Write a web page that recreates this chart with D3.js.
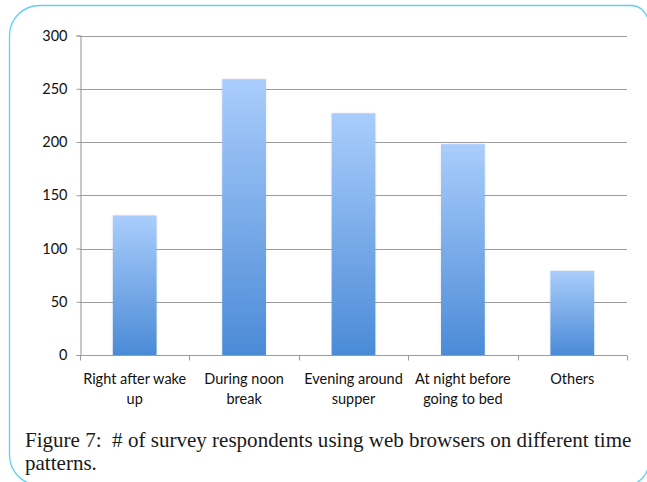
<!DOCTYPE html>
<html>
<head>
<meta charset="utf-8">
<script src="https://cdn.jsdelivr.net/npm/d3@7"></script>
<style>
  html, body { margin: 0; padding: 0; background: #ffffff; }
  svg { display: block; }
</style>
</head>
<body>
<svg id="chart" width="647" height="482"></svg>
<script>
// Survey: time of day respondents use web browsers
const categories = [
  ["Right after wake", "up"],
  ["During noon", "break"],
  ["Evening around", "supper"],
  ["At night before", "going to bed"],
  ["Others"]
];
const respondents = [131, 259, 227, 198, 79];
const yTicks = [0, 50, 100, 150, 200, 250, 300];
const captionLines = [
  "Figure 7:  # of survey respondents using web browsers on different time",
  "patterns."
];

const svg = d3.select("#chart");
const plot = { left: 80, right: 627, top: 35.5, bottom: 355 };

// Rounded frame around figure + caption (uneven corner radii)
(function frame() {
  const x0 = 9.5, y0 = 5.5, x1 = 648.5, y1 = 485;
  const rTL = 30, rTR = 18, rBR = 22, rBL = 30;
  const p = d3.path();
  p.moveTo(x0 + rTL, y0);
  p.lineTo(x1 - rTR, y0);
  p.arcTo(x1, y0, x1, y0 + rTR, rTR);
  p.lineTo(x1, y1 - rBR);
  p.arcTo(x1, y1, x1 - rBR, y1, rBR);
  p.lineTo(x0 + rBL, y1);
  p.arcTo(x0, y1, x0, y1 - rBL, rBL);
  p.lineTo(x0, y0 + rTL);
  p.arcTo(x0, y0, x0 + rTL, y0, rTL);
  p.closePath();
  svg.append("path")
    .attr("d", p.toString())
    .attr("fill", "none")
    .attr("stroke", "#5fd0f3")
    .attr("stroke-width", 1.3);
})();

const defs = svg.append("defs");
const grad = defs.append("linearGradient")
  .attr("id", "barFill").attr("x1", 0).attr("y1", 0).attr("x2", 0).attr("y2", 1);
grad.append("stop").attr("offset", "0%").attr("stop-color", "#aacdfc");
grad.append("stop").attr("offset", "100%").attr("stop-color", "#4b8bd7");

const shadow = defs.append("filter").attr("id", "barShadow")
  .attr("x", "-20%").attr("y", "-10%").attr("width", "140%").attr("height", "120%");
shadow.append("feDropShadow")
  .attr("dx", 0).attr("dy", 0).attr("stdDeviation", 1.2)
  .attr("flood-color", "#000").attr("flood-opacity", 0.12);

const x = d3.scaleBand()
  .domain(d3.range(categories.length))
  .range([plot.left, plot.right])
  .padding(0);

const y = d3.scaleLinear()
  .domain([0, 300])
  .range([plot.bottom, plot.top]);

const labelFont = "Lato, 'Open Sans', sans-serif";

// Horizontal gridlines
svg.append("g")
  .selectAll("line")
  .data(yTicks.filter(d => d > 0))
  .join("line")
  .attr("x1", plot.left).attr("x2", plot.right)
  .attr("y1", d => Math.round(y(d)) + 0.5)
  .attr("y2", d => Math.round(y(d)) + 0.5)
  .attr("stroke", "#9c9c9c")
  .attr("stroke-width", 1.1);

// Y axis
const yAxis = svg.append("g")
  .attr("transform", `translate(${plot.left + 0.5},0)`)
  .call(d3.axisLeft(y).tickValues(yTicks).tickSize(4).tickPadding(9));
yAxis.select(".domain").attr("stroke", "#9c9c9c").attr("stroke-width", 1.1);
yAxis.selectAll(".tick line").attr("stroke", "#9c9c9c");
yAxis.selectAll(".tick text")
  .attr("font-family", labelFont)
  .attr("font-size", 14.5)
  .attr("fill", "#111");

// Bars: each bar takes 40% of its category slot, centred
const barFrac = 0.4;
svg.append("g")
  .selectAll("rect")
  .data(respondents)
  .join("rect")
  .attr("x", (d, i) => x(i) + x.bandwidth() * (1 - barFrac) / 2)
  .attr("width", x.bandwidth() * barFrac)
  .attr("y", d => y(d))
  .attr("height", d => y(0) - y(d))
  .attr("fill", "url(#barFill)")
  .attr("filter", "url(#barShadow)");

// X axis baseline with boundary ticks
const xg = svg.append("g");
xg.append("line")
  .attr("x1", plot.left).attr("x2", plot.right)
  .attr("y1", Math.round(y(0)) + 0.5).attr("y2", Math.round(y(0)) + 0.5)
  .attr("stroke", "#9c9c9c").attr("stroke-width", 1.1);
const bounds = d3.range(categories.length).map(i => x(i)).concat([x(categories.length - 1) + x.bandwidth()]);
xg.selectAll("line.bt")
  .data(bounds)
  .join("line")
  .attr("class", "bt")
  .attr("x1", d => Math.round(d) + 0.5).attr("x2", d => Math.round(d) + 0.5)
  .attr("y1", Math.round(y(0)) + 0.5).attr("y2", Math.round(y(0)) + 5.5)
  .attr("stroke", "#9c9c9c").attr("stroke-width", 1.1);

// Category labels (two lines)
const lab = svg.append("g")
  .attr("font-family", labelFont)
  .attr("font-size", 14.5)
  .attr("fill", "#111")
  .attr("text-anchor", "middle");
categories.forEach((lines, i) => {
  const cx = x(i) + x.bandwidth() / 2;
  const t = lab.append("text").attr("x", cx).attr("y", 384);
  lines.forEach((s, k) => {
    t.append("tspan")
      .attr("x", cx)
      .attr("dy", k === 0 ? 0 : 20)
      .text(s);
  });
});

// Caption: size chosen so the first line spans the frame's inner width
const cap = svg.append("g")
  .attr("font-family", "'Liberation Serif', 'Times New Roman', serif")
  .attr("fill", "#1a1a1a");
const capTexts = captionLines.map((s, k) =>
  cap.append("text")
    .attr("x", 25)
    .attr("y", 447 + k * 23)
    .attr("font-size", 19)
    .style("white-space", "pre")
    .text(s)
);
const w0 = capTexts[0].node().getComputedTextLength();
const capSize = Math.min(22, 19 * 607 / w0);
capTexts.forEach(t => t.attr("font-size", capSize));
</script>
</body>
</html>
